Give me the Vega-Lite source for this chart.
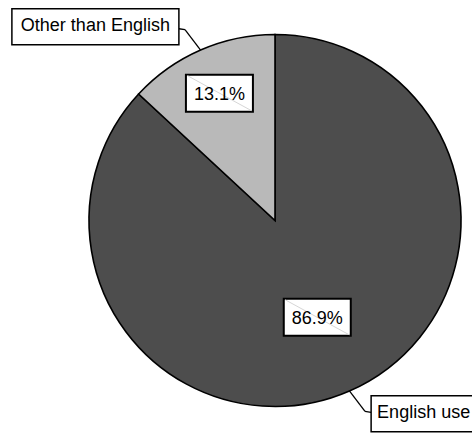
{
  "$schema": "https://vega.github.io/schema/vega-lite/v6.json",
  "width": 472,
  "height": 434,
  "autosize": "none",
  "padding": 0,
  "background": "white",
  "config": {
    "view": {"stroke": null},
    "text": {"font": "Liberation Sans", "fontSize": 18, "color": "#000000"}
  },
  "data": {
    "values": [
      {"category": "English use", "value": 86.9},
      {"category": "Other than English", "value": 13.1}
    ]
  },
  "transform": [
    {"stack": "value", "groupby": [], "sort": [{"field": "category", "order": "ascending"}], "offset": "normalize", "as": ["f0", "f1"]},
    {"calculate": "PI * (datum.f0 + datum.f1)", "as": "mid"},
    {"calculate": "datum.f1 - datum.f0", "as": "share"},
    {"calculate": "sin(datum.mid)", "as": "ex"},
    {"calculate": "cos(datum.mid)", "as": "ey"},
    {"calculate": "datum.ex < 0 ? -1 : 1", "as": "side"},
    {"calculate": "datum.share < 0.5 ? 0.747 : 0.568", "as": "lr"},
    {"calculate": "datum.lr * datum.ex", "as": "lx"},
    {"calculate": "datum.lr * datum.ey", "as": "ly"},
    {"calculate": "datum.ex + datum.side * 0.0839", "as": "kx"},
    {"calculate": "datum.ey - datum.side * 0.1102", "as": "ky"},
    {"calculate": "datum.ex + datum.side * 0.1167", "as": "ax"},
    {"calculate": "datum.ey - datum.side * 0.1145", "as": "ay"}
  ],
  "layer": [
    {
      "mark": {"type": "arc", "outerRadius": 186, "stroke": "#000000", "strokeWidth": 1.6},
      "encoding": {
        "x": {"datum": 0, "type": "quantitative", "scale": {"domain": [-1.4785, 1.0591], "nice": false, "zero": false}, "axis": null},
        "y": {"datum": 0, "type": "quantitative", "scale": {"domain": [-1.1478, 1.1855], "nice": false, "zero": false}, "axis": null},
        "theta": {"field": "value", "type": "quantitative", "stack": true},
        "order": {"field": "f0", "type": "quantitative"},
        "color": {
          "field": "category",
          "type": "nominal",
          "scale": {"domain": ["English use", "Other than English"], "range": ["#4d4d4d", "#b9b9b9"]},
          "legend": null
        }
      }
    },
    {
      "mark": {"type": "rule", "stroke": "#000000", "strokeWidth": 1.3},
      "encoding": {
        "x": {"field": "ex", "type": "quantitative"},
        "y": {"field": "ey", "type": "quantitative"},
        "x2": {"field": "kx"},
        "y2": {"field": "ky"}
      }
    },
    {
      "mark": {"type": "rule", "stroke": "#000000", "strokeWidth": 1.3},
      "encoding": {
        "x": {"field": "kx", "type": "quantitative"},
        "y": {"field": "ky", "type": "quantitative"},
        "x2": {"field": "ax"},
        "y2": {"field": "ay"}
      }
    },
    {
      "transform": [{"filter": "datum.side < 0"}],
      "mark": {"type": "point", "shape": "M0,-20H-167V16H0Z", "size": 4, "fill": "#ffffff", "stroke": "#000000", "strokeWidth": 1.5, "opacity": 1, "fillOpacity": 1},
      "encoding": {
        "x": {"field": "ax", "type": "quantitative"},
        "y": {"field": "ay", "type": "quantitative"}
      }
    },
    {
      "transform": [{"filter": "datum.side < 0"}],
      "mark": {"type": "text", "align": "center", "baseline": "alphabetic", "dx": -83.5, "dy": 2.5},
      "encoding": {
        "x": {"field": "ax", "type": "quantitative"},
        "y": {"field": "ay", "type": "quantitative"},
        "text": {"field": "category", "type": "nominal"}
      }
    },
    {
      "transform": [{"filter": "datum.side > 0"}],
      "mark": {"type": "point", "shape": "M0,-16.5H110V19.5H0Z", "size": 4, "fill": "#ffffff", "stroke": "#000000", "strokeWidth": 1.5, "opacity": 1, "fillOpacity": 1},
      "encoding": {
        "x": {"field": "ax", "type": "quantitative"},
        "y": {"field": "ay", "type": "quantitative"}
      }
    },
    {
      "transform": [{"filter": "datum.side > 0"}],
      "mark": {"type": "text", "align": "left", "baseline": "alphabetic", "dx": 6, "dy": 6},
      "encoding": {
        "x": {"field": "ax", "type": "quantitative"},
        "y": {"field": "ay", "type": "quantitative"},
        "text": {"field": "category", "type": "nominal"}
      }
    },
    {
      "mark": {"type": "point", "shape": "M-33.5,-18.5H33.5V18.5H-33.5Z", "size": 4, "fill": "#ffffff", "stroke": "#000000", "strokeWidth": 2, "opacity": 1, "fillOpacity": 1},
      "encoding": {
        "x": {"field": "lx", "type": "quantitative"},
        "y": {"field": "ly", "type": "quantitative"}
      }
    },
    {
      "mark": {"type": "point", "shape": "M-32,-17.5L32,17.5", "size": 4, "fill": null, "filled": false, "stroke": "#d6d6d6", "strokeWidth": 1, "opacity": 1},
      "encoding": {
        "x": {"field": "lx", "type": "quantitative"},
        "y": {"field": "ly", "type": "quantitative"}
      }
    },
    {
      "mark": {"type": "text", "align": "center", "baseline": "alphabetic", "dy": 6.4},
      "encoding": {
        "x": {"field": "lx", "type": "quantitative"},
        "y": {"field": "ly", "type": "quantitative"},
        "text": {"field": "share", "type": "quantitative", "format": ".1%"}
      }
    }
  ]
}
